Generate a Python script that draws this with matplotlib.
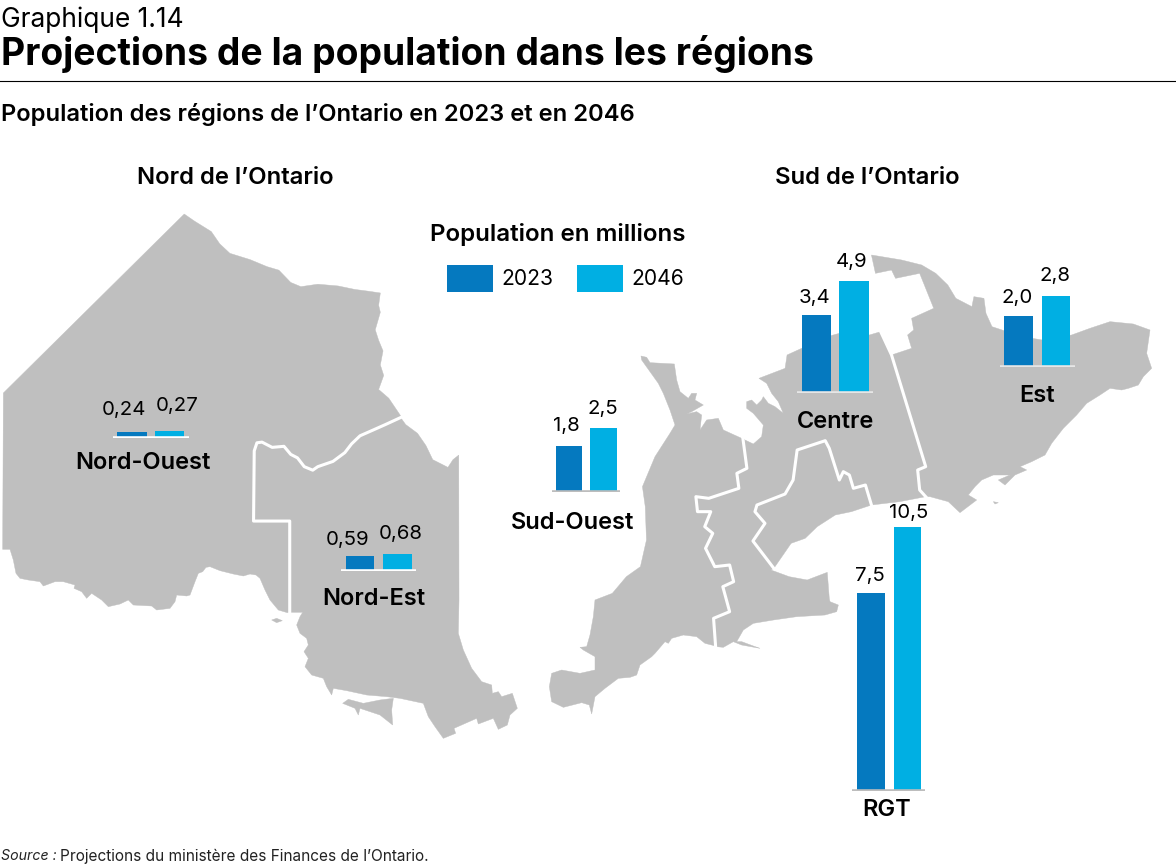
import matplotlib
matplotlib.use("Agg")
import matplotlib.pyplot as plt
from matplotlib.patches import Polygon, Rectangle

plt.rcParams['font.family'] = ['Inter', 'DejaVu Sans']

# ---------- data ----------
regions = ["Nord-Ouest", "Nord-Est", "Sud-Ouest", "Centre", "Est", "RGT"]
# Bar heights as drawn in the reference. The RGT 2023 bar is drawn taller (about 7,9)
# than its printed label (7,5); the printed labels are kept separately below.
bar_2023 = [0.24, 0.59, 1.8, 3.4, 2.0, 7.9]
bar_2046 = [0.27, 0.68, 2.5, 4.9, 2.8, 10.5]
labels_2023 = ["0,24", "0,59", "1,8", "3,4", "2,0", "7,5"]
labels_2046 = ["0,27", "0,68", "2,5", "4,9", "2,8", "10,5"]
legend_years = ["2023", "2046"]

# ---------- styles ----------
C23, C46, GREY = "#0579BF", "#00AFE3", "#BFBFBF"
W, H = 1176, 867

fig = plt.figure(figsize=(W / 100, H / 100), dpi=100)
bg = fig.add_axes([0, 0, 1, 1])
bg.set_xlim(0, W)
bg.set_ylim(H, 0)
bg.axis("off")

# ---------- map outlines (background geography, in crop coordinates) ----------
def north(pts):
    return [(x / 2.958, 200 + y / 2.85) for x, y in pts]

def south(pts):
    return [(540 + x / 2.489, 240 + y / 3) for x, y in pts]

def crop(ox, oy, pts):
    return [(ox + x / 3, oy + y / 3) for x, y in pts]

border_nw_ne = [(1185,620),(1140,640),(1105,655),(1065,672),(1040,695),(1020,720),(985,745),
                (940,760),(925,770),(900,760),(880,735),(860,725),(840,702),(805,705),(775,690),
                (760,692),(752,715),(750,915),(857,915),(857,1175)]
nord_ouest = north([(10,550),(545,40),(575,60),(625,90),(650,125),(680,152),(740,170),(790,190),(825,200),
              (860,235),(890,247),(940,240),(1000,245),(1050,255),(1090,260),(1125,265),(1120,300),
              (1125,320),(1110,370),(1120,400),(1133,430),(1125,470),(1135,500),(1120,540),(1150,565),
              (1185,615)] + border_nw_ne) + crop(0, 540, [
              (862,218),(835,210),(810,180),(795,150),(780,115),(768,105),(750,102),(730,108),(700,102),
              (660,92),(630,80),(618,82),(608,95),(595,100),(585,125),(570,165),(560,168),(530,165),(525,185),
              (510,205),(470,210),(455,198),(400,195),(385,180),(360,192),(325,200),(305,180),(275,160),
              (260,175),(245,155),(222,145),(225,135),(190,125),(165,125),(130,138),(120,125),(85,120),
              (60,115),(48,100),(40,60),(30,28),(8,28)])
nord_est = north(border_nw_ne + [(857,1175)]) + crop(280, 600, [
            (68,37),(60,50),(50,75),(60,100),(80,115),(85,135),(72,155),(85,175),(75,200),(95,225),(130,235),
            (140,260),(155,285),(160,265),(200,272),(260,285),(320,290),(360,295),(430,310),(445,350),(465,380),
            (490,415),(527,400),(522,385),(590,355),(595,372),(640,355),(655,388),(682,375),(690,345),(712,325),
            (697,280),(665,290),(655,275),(637,280),(635,255),(605,245),(575,205),(550,150),(535,100),(537,0)]) + north([
            (1357,727),(1340,740),(1325,762),(1280,740),(1260,700),(1235,665),(1200,640)])
island_n = crop(0, 540, [(815,240),(830,235),(847,242),(830,248)])
manitoulin = crop(280, 600, [(188,310),(205,298),(250,310),(300,300),(340,295),(335,330),(338,375),
                             (300,345),(240,325),(235,345),(225,325)])

border_so_c = [(505,595),(515,685),(490,700),(495,745),(420,775),(388,770),(392,815),(425,815),(410,860),
               (430,880),(412,925),(435,980),(472,975),(482,1025),(455,1040),(472,1115),(432,1135),(437,1218)]
sud_ouest = crop(635, 350, [(18,18),(35,22),(45,38),(118,42),(125,90),(135,125),(160,145),(170,130),(185,130),
                            (180,150),(205,165),(170,185),(155,192),(185,185),(200,195),(195,240),(215,210),
                            (250,205),(265,240),(320,265)]) + south(border_so_c) + crop(540, 590, [
             (495,160),(470,140),(430,135),(395,145),(385,160),(375,155),(345,190),(335,200),(300,225),(290,255),
             (270,262),(235,265),(195,295),(165,320),(155,372),(148,345),(125,338),(70,352),(35,335),(28,290),
             (35,250),(65,240),(120,250),(165,240),(165,200),(130,180),(120,172),(140,170),(150,135),(160,80),
             (165,30)]) + south([(180,1060),(215,1010),(250,980),(265,900),(262,800),(255,740)]) + crop(635, 350, [
             (60,320),(105,250),(120,225),(105,180),(85,130),(70,100),(45,65),(20,30)])
border_rgt = [(825,795),(810,735),(780,745),(770,705),(755,695),(745,720),(720,625),(710,602),(640,630),
              (630,720),(610,762),(540,795),(535,815),(560,850),(530,903),(582,985)]
border_c_e = [(848,275),(875,345),(960,680),(940,690),(945,750),(960,770)]
centre = south([(545,415),(610,385),(615,345),(715,290),(745,280),(820,285)] + border_c_e + [(895,785)] + border_rgt + [
          (575,990),(620,1010),(665,1020),(715,997),(720,1075)]) + crop(540, 590, [
          (870,35),(895,45),(890,65),(855,75),(770,80),(700,90),(640,100),(610,120),(590,155),(605,155),(640,168),
          (660,175),(605,165),(580,155),(550,172),(530,170)]) + south(border_so_c[::-1]) + crop(635, 350, [
          (330,270),(355,282),(380,260),(385,225),(355,190),(335,175),(335,155),(350,150),(365,165),(380,150),
          (385,140),(400,160),(420,170),(445,190),(430,155),(410,130),(395,100)])
rgt = south(border_rgt + [(605,945),(625,910),(660,895),(690,860),(735,825),(775,815)])
est = south([(825,45),(900,60),(950,75),(985,100),(1015,135),(1035,175),(1075,200),(1080,170),(1105,175),(1110,220),
       (1125,260),(1200,290),(1250,300)]) + crop(920, 320, [
       (455,45),(510,25),(570,5),(640,12),(690,30),(680,100),(695,145),(670,170),(655,195),(625,205),(605,210),
       (570,205),(540,225),(500,250),(470,285),(430,325),(395,370),(375,405),(335,425),(300,440),(320,450),
       (285,465),(255,495),(235,480),(270,465),(220,465),(185,480),(165,500),(145,525),(170,540),(120,578),
       (85,545),(30,530)]) + south(border_c_e[::-1][:-1] + [
       (925,325),(915,285),(930,270),(925,235),(980,205),(945,100),(885,115),(875,90),(835,100)])
islets = [crop(920, 320, [(220,545),(235,548),(225,552)])]

for shape in [nord_ouest, nord_est, island_n, manitoulin, sud_ouest, centre, rgt, est] + islets:
    bg.add_patch(Polygon(shape, closed=True, fc=GREY, ec=GREY, lw=0.3))

bx, by = zip(*north(border_nw_ne))
bg.plot(bx, by, color="white", lw=2.2)
for border in (border_so_c, border_rgt, border_c_e):
    bx, by = zip(*south(border))
    bg.plot(bx, by, color="white", lw=2.2)

# ---------- heading ----------
bg.text(1, 20, "Graphique 1.14", fontsize=19, va="center", ha="left", color="black")
bg.text(1, 54, "Projections de la population dans les régions", fontsize=26.8,
        fontweight="bold", va="center", ha="left", color="black")
bg.plot([0, W], [81, 81], color="black", lw=0.8)
bg.text(1, 114, "Population des régions de l’Ontario en 2023 et en 2046", fontsize=17.1,
        fontweight="semibold", va="center", ha="left")
bg.text(235, 178, "Nord de l’Ontario", fontsize=17.2, fontweight="semibold", va="center", ha="center")
bg.text(867, 178, "Sud de l’Ontario", fontsize=17.2, fontweight="semibold", va="center", ha="center")
bg.text(558, 234, "Population en millions", fontsize=17.4, fontweight="semibold", va="center", ha="center")

# legend
for x0, col, yr, tx in [(447, C23, legend_years[0], 501), (577, C46, legend_years[1], 631)]:
    bg.add_patch(Rectangle((x0, 265), 46, 27, fc=col, ec="none"))
    bg.text(tx, 279, yr, fontsize=15.2, va="center", ha="left")

# source
bg.text(1, 856, "Source :", fontsize=10.2, style="italic", va="center", ha="left", color="#222222")
bg.text(60, 856, "Projections du ministère des Finances de l’Ontario.", fontsize=11.1, va="center",
        ha="left", color="#222222")

# ---------- bars ----------
# per region: left bar x0,x1 ; right bar x0,x1 ; baseline y ; baseline x0,x1 ; px per million
layout = [
    (117, 147, 155, 184, 437.5, 113, 189, 25.0),
    (345.5, 374, 383, 412, 571, 341, 416, 25.0),
    (556, 582, 590, 617, 492, 552, 620, 25.6),
    (801.5, 830.5, 839, 869, 393, 797, 873, 22.9),
    (1004.5, 1033, 1042, 1070, 367, 1000, 1075, 25.4),
    (856.5, 885, 893.5, 921, 791, 852, 925, 25.1),
]
value_pos = [((124, 410), (177.5, 406)), ((347.5, 540), (401, 534)), ((566, 426), (603, 409)),
             ((815, 298), (852, 262)), ((1017, 298), (1055, 276)), ((870, 576), (909, 513))]
name_pos = [(143, 463), (374, 599), (573, 523), (836, 422), (1037, 396), (887, 810)]
base_col = ["white", "white", "#BDBDBD", "#E6E6E6", "#E6E6E6", "#BDBDBD"]

for i, name in enumerate(regions):
    l0, l1, r0, r1, base, b0, b1, ppm = layout[i]
    total = max(bar_2046[i] * ppm + 10, 60)
    ax = fig.add_axes([b0 / W, 1 - base / H, (b1 - b0) / W, total / H])
    ax.set_xlim(b0, b1)
    ax.set_ylim(0, total / ppm)
    ax.patch.set_alpha(0)
    for sp in ax.spines.values():
        sp.set_visible(False)
    ax.set_xticks([])
    ax.set_yticks([])
    ax.bar((l0 + l1) / 2, bar_2023[i], width=l1 - l0, color=C23)
    ax.bar((r0 + r1) / 2, bar_2046[i], width=r1 - r0, color=C46)
    ax.axhline(0, color=base_col[i], lw=2.6)
    (ax0, ay0), (ax1, ay1) = value_pos[i]
    bg.text(ax0, ay0, labels_2023[i], fontsize=14.7, va="center", ha="center")
    bg.text(ax1, ay1, labels_2046[i], fontsize=14.7, va="center", ha="center")
    bg.text(name_pos[i][0], name_pos[i][1], name, fontsize=17, fontweight="semibold", va="center", ha="center")

fig.savefig("out.png", dpi=100)
